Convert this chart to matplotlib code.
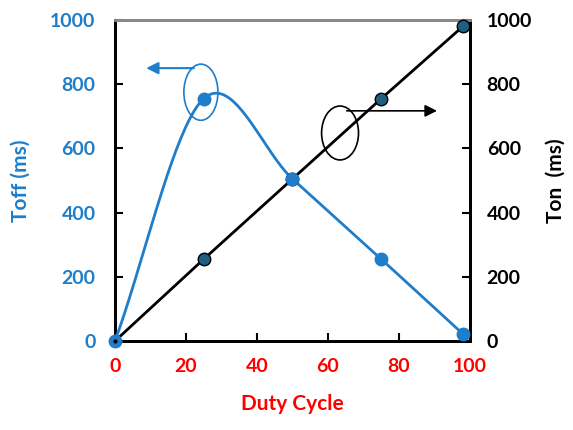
import numpy as np
import matplotlib.pyplot as plt
from matplotlib.patches import Ellipse

plt.rcParams['font.family'] = ['Lato', 'DejaVu Sans']
plt.rcParams['font.weight'] = 'bold'

# data
duty = [0, 25, 50, 75, 98]
toff = [0, 755, 505, 255, 22]
ton = [0, 255, 505, 755, 980]

blue = '#1f7dc9'
red = '#ff0000'


def smooth(xs, ys, n=40):
    # Catmull-Rom style smoothing like a spreadsheet "smoothed line"
    xs = np.asarray(xs, float)
    ys = np.asarray(ys, float)
    px = np.concatenate([[2 * xs[0] - xs[1]], xs, [2 * xs[-1] - xs[-2]]])
    py = np.concatenate([[2 * ys[0] - ys[1]], ys, [2 * ys[-1] - ys[-2]]])
    outx, outy = [], []
    for i in range(1, len(px) - 2):
        p0 = np.array([px[i - 1], py[i - 1]])
        p1 = np.array([px[i], py[i]])
        p2 = np.array([px[i + 1], py[i + 1]])
        p3 = np.array([px[i + 2], py[i + 2]])
        c1 = p1 + (p2 - p0) / 6
        c2 = p2 - (p3 - p1) / 6
        t = np.linspace(0, 1, n)[:, None]
        b = (1 - t) ** 3 * p1 + 3 * (1 - t) ** 2 * t * c1 + 3 * (1 - t) * t ** 2 * c2 + t ** 3 * p2
        outx.extend(b[:, 0])
        outy.extend(b[:, 1])
    return outx, outy


fig = plt.figure(figsize=(5.73, 4.3), dpi=100)
ax = fig.add_axes([0.2007, 0.207, 0.6195, 0.7465])
ax2 = ax.twinx()

sx, sy = smooth(duty, toff)
ax2.plot(sx, sy, color=blue, lw=2.0, zorder=3)
ax2.plot(duty, ton, color='black', lw=2.0, zorder=3)
ax2.plot(duty[1:], ton[1:], 'o', color='#1e5f80', mec='black', mew=1.0, ms=9,
         zorder=4, clip_on=False)
ax2.plot(duty, toff, 'o', color=blue, ms=9, zorder=5, clip_on=False)
ax2.plot(duty[:1], ton[:1], 'o', color='black', ms=2, zorder=6, clip_on=False)

ax.set_xlim(0, 100)
ax.set_ylim(0, 1000)
ax2.set_ylim(0, 1000)
ax.set_xticks([0, 20, 40, 60, 80, 100])
ax.set_yticks([0, 200, 400, 600, 800, 1000])
ax2.set_yticks([0, 200, 400, 600, 800, 1000])

ax.tick_params(axis='x', direction='in', length=6, width=1.5, colors='black',
               labelcolor=red, labelsize=14, pad=12)
ax.tick_params(axis='y', direction='in', length=6, width=1.5, labelcolor=blue,
               labelsize=14, pad=14)
ax2.tick_params(axis='y', direction='in', length=6, width=1.5, labelcolor='black',
                labelsize=14, pad=12)

for a in (ax, ax2):
    for s in ['left', 'right', 'bottom']:
        a.spines[s].set_linewidth(2)
        a.spines[s].set_color('black')
    a.spines['top'].set_color('#888888')
    a.spines['top'].set_linewidth(2)

ax.set_xlabel('Duty Cycle', color=red, fontsize=15, fontweight='bold', labelpad=14)
ax.set_ylabel('Toff (ms)', color=blue, fontsize=15, fontweight='bold', labelpad=14)
ax2.set_ylabel('Ton  (ms)', color='black', fontsize=15, fontweight='bold', labelpad=10)

# annotation ellipses and arrows
ax2.add_patch(Ellipse((24.2, 775), 9.6, 175, fill=False, ec=blue, lw=1.2, zorder=5))
ax2.annotate('', xy=(8, 850), xytext=(23, 850),
             arrowprops=dict(arrowstyle='-|>', color=blue, lw=1.5, mutation_scale=18))
ax2.add_patch(Ellipse((63.4, 648), 10.4, 168, fill=False, ec='black', lw=1.2, zorder=5))
ax2.annotate('', xy=(91.5, 717), xytext=(64.5, 717),
             arrowprops=dict(arrowstyle='-|>', color='black', lw=1.2, mutation_scale=18))

fig.savefig('out.png', dpi=100)
